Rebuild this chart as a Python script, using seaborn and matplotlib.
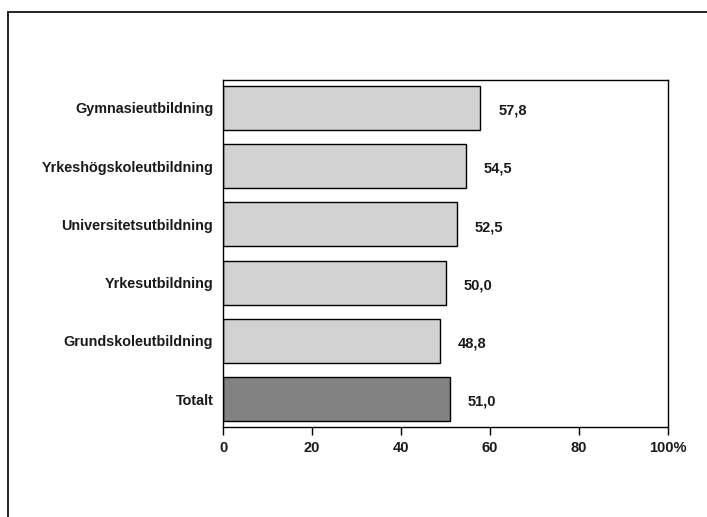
import matplotlib
matplotlib.use("Agg")
import matplotlib.pyplot as plt
import pandas as pd
import seaborn as sns
from matplotlib.lines import Line2D

categories = [
    "Gymnasieutbildning",
    "Yrkeshögskoleutbildning",
    "Universitetsutbildning",
    "Yrkesutbildning",
    "Grundskoleutbildning",
    "Totalt",
]
values = [57.8, 54.5, 52.5, 50.0, 48.8, 51.0]
bar_colors = ["#d2d2d2", "#d2d2d2", "#d2d2d2", "#d2d2d2", "#d2d2d2", "#828282"]
x_ticks = [0, 20, 40, 60, 80, 100]
x_ticklabels = ["0", "20", "40", "60", "80", "100%"]

sns.set_theme(style="white")
plt.rcParams["font.family"] = ["Liberation Sans", "DejaVu Sans"]

df = pd.DataFrame({"cat": categories, "val": values})

fig = plt.figure(figsize=(7.07, 5.17), dpi=100)
ax = fig.add_axes([223 / 707, 1 - 427 / 517, 445 / 707, 347 / 517])

sns.barplot(
    data=df, y="cat", x="val", hue="cat", palette=bar_colors,
    order=categories, hue_order=categories, legend=False,
    width=0.756, edgecolor="black", linewidth=1.0, ax=ax,
)

for i, v in enumerate(values):
    ax.annotate(
        f"{v:.1f}".replace(".", ","), xy=(v, i), xytext=(13, -2),
        textcoords="offset points", ha="left", va="center",
        fontsize=10.5, fontweight="bold", color="#1a1a1a",
    )

ax.set_xlim(0, 100)
ax.set_ylim(len(categories) - 0.52, -0.48)
ax.set_xticks(x_ticks)
ax.set_xticklabels(x_ticklabels)
ax.set_xlabel("")
ax.set_ylabel("")
ax.tick_params(axis="x", bottom=True, length=6, width=1, color="black",
               labelsize=10.5, pad=4, labelcolor="#1a1a1a")
ax.tick_params(axis="y", left=False, length=0, labelsize=10.4, pad=7, labelcolor="#1a1a1a")
for lab in ax.get_xticklabels() + ax.get_yticklabels():
    lab.set_fontweight("bold")
for sp in ax.spines.values():
    sp.set_visible(True)
    sp.set_color("black")
    sp.set_linewidth(1.0)

# outer frame (left and top only, as in the scan)
fig.add_artist(Line2D([8 / 707, 8 / 707], [0, 1 - 12 / 517], color="black", lw=1.2,
                      transform=fig.transFigure))
fig.add_artist(Line2D([8 / 707, 1], [1 - 12 / 517, 1 - 12 / 517], color="black", lw=1.2,
                      transform=fig.transFigure))

fig.savefig("out.png", dpi=100)
